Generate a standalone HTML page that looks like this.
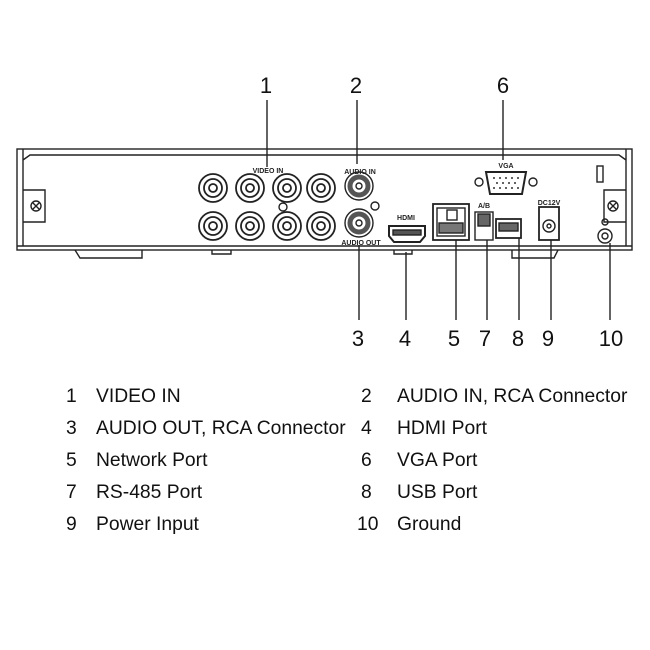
<!DOCTYPE html>
<html><head><style>body{margin:0;background:#fff}svg{display:block}</style></head>
<body>
<svg width="650" height="650" viewBox="0 0 650 650" xmlns="http://www.w3.org/2000/svg" font-family="Liberation Sans, Arial, sans-serif">
<g fill="none" stroke="#222" stroke-width="1.4">
<rect x="17" y="149" width="615" height="101"/>
<path d="M23 149 V246 M626 149 V246 M23 160 L30 155 H619 L626 160"/>
<line x1="17" y1="246" x2="632" y2="246"/>
<path d="M75 250 L80 258 H142 V250 M212 250 V254 H231 V250 M394 250 V254 H412 V250 M512 250 V258 H554 L558 250"/>
<path d="M23 190 H45 V222 H23 M626 190 H604 V222 H626"/>
<circle cx="36" cy="206" r="5"/><circle cx="613" cy="206" r="5"/>
<path d="M33 203 L39 209 M39 203 L33 209 M610 203 L616 209 M616 203 L610 209"/>
<rect x="597" y="166" width="6" height="16"/>
<g stroke-width="1.8">
<circle cx="213" cy="188" r="14"/><circle cx="213" cy="188" r="9"/><circle cx="213" cy="188" r="4"/>
<circle cx="250" cy="188" r="14"/><circle cx="250" cy="188" r="9"/><circle cx="250" cy="188" r="4"/>
<circle cx="287" cy="188" r="14"/><circle cx="287" cy="188" r="9"/><circle cx="287" cy="188" r="4"/>
<circle cx="321" cy="188" r="14"/><circle cx="321" cy="188" r="9"/><circle cx="321" cy="188" r="4"/>
<circle cx="213" cy="226" r="14"/><circle cx="213" cy="226" r="9"/><circle cx="213" cy="226" r="4"/>
<circle cx="250" cy="226" r="14"/><circle cx="250" cy="226" r="9"/><circle cx="250" cy="226" r="4"/>
<circle cx="287" cy="226" r="14"/><circle cx="287" cy="226" r="9"/><circle cx="287" cy="226" r="4"/>
<circle cx="321" cy="226" r="14"/><circle cx="321" cy="226" r="9"/><circle cx="321" cy="226" r="4"/>
</g>
<circle cx="359" cy="186" r="14"/><circle cx="359" cy="186" r="9" stroke-width="5" stroke="#555"/><circle cx="359" cy="186" r="3"/>
<circle cx="359" cy="223" r="14"/><circle cx="359" cy="223" r="9" stroke-width="5" stroke="#555"/><circle cx="359" cy="223" r="3"/>
<circle cx="375" cy="206" r="4"/><circle cx="283" cy="207" r="4"/>
<path d="M389 226 H425 V236 L420 242 H394 L389 236 Z" stroke-width="2"/><rect x="393" y="230" width="28" height="5" fill="#555"/>
<rect x="433" y="204" width="36" height="36" stroke-width="1.8"/><rect x="437" y="208" width="28" height="28"/><rect x="447" y="210" width="10" height="10"/>
<rect x="439" y="223" width="24" height="10" fill="#777"/>
<rect x="475" y="212" width="18" height="28"/><rect x="478" y="214" width="12" height="12" fill="#666"/>
<rect x="496" y="219" width="25" height="19" stroke-width="1.8"/><rect x="499" y="223" width="19" height="8" fill="#666"/>
<rect x="539" y="207" width="20" height="33" stroke-width="1.8"/><circle cx="549" cy="226" r="6"/><circle cx="549" cy="226" r="2"/>
<path d="M486 172 H526 L522 194 H490 Z" stroke-width="2"/>
<circle cx="479" cy="182" r="4"/><circle cx="533" cy="182" r="4"/>
<g fill="#333" stroke="none"><circle cx="494" cy="178" r="1"/><circle cx="500" cy="178" r="1"/><circle cx="506" cy="178" r="1"/><circle cx="512" cy="178" r="1"/><circle cx="518" cy="178" r="1"/><circle cx="497" cy="183" r="1"/><circle cx="503" cy="183" r="1"/><circle cx="509" cy="183" r="1"/><circle cx="515" cy="183" r="1"/><circle cx="494" cy="188" r="1"/><circle cx="500" cy="188" r="1"/><circle cx="506" cy="188" r="1"/><circle cx="512" cy="188" r="1"/><circle cx="518" cy="188" r="1"/></g>
<circle cx="605" cy="236" r="7"/><circle cx="605" cy="236" r="3"/><circle cx="605" cy="222" r="3"/>
<path d="M267 100 V167 M357 100 V164 M503 100 V160 M359 245 V320 M406 252 V320 M456 240 V320 M487 240 V320 M519 238 V320 M551 240 V320 M610 243 V320"/>
</g>
<g font-size="7" font-weight="bold" fill="#222" text-anchor="middle">
<text x="268" y="173">VIDEO IN</text><text x="360" y="174">AUDIO IN</text><text x="361" y="245">AUDIO OUT</text>
<text x="506" y="168">VGA</text><text x="406" y="220">HDMI</text><text x="484" y="208">A/B</text><text x="549" y="205">DC12V</text>
</g>
<g font-size="22" fill="#111" text-anchor="middle">
<text x="266" y="93">1</text><text x="356" y="93">2</text><text x="503" y="93">6</text>
<text x="358" y="346">3</text><text x="405" y="346">4</text><text x="454" y="346">5</text><text x="485" y="346">7</text><text x="518" y="346">8</text><text x="548" y="346">9</text><text x="611" y="346">10</text>
</g>
<g font-size="19.3" fill="#111">
<text x="66" y="402">1</text><text x="96" y="402">VIDEO IN</text>
<text x="361" y="402">2</text><text x="397" y="402">AUDIO IN, RCA Connector</text>
<text x="66" y="434">3</text><text x="96" y="434">AUDIO OUT, RCA Connector</text>
<text x="361" y="434">4</text><text x="397" y="434">HDMI Port</text>
<text x="66" y="466">5</text><text x="96" y="466">Network Port</text>
<text x="361" y="466">6</text><text x="397" y="466">VGA Port</text>
<text x="66" y="498">7</text><text x="96" y="498">RS-485 Port</text>
<text x="361" y="498">8</text><text x="397" y="498">USB Port</text>
<text x="66" y="530">9</text><text x="96" y="530">Power Input</text>
<text x="357" y="530">10</text><text x="397" y="530">Ground</text>
</g>
</svg>
</body></html>
